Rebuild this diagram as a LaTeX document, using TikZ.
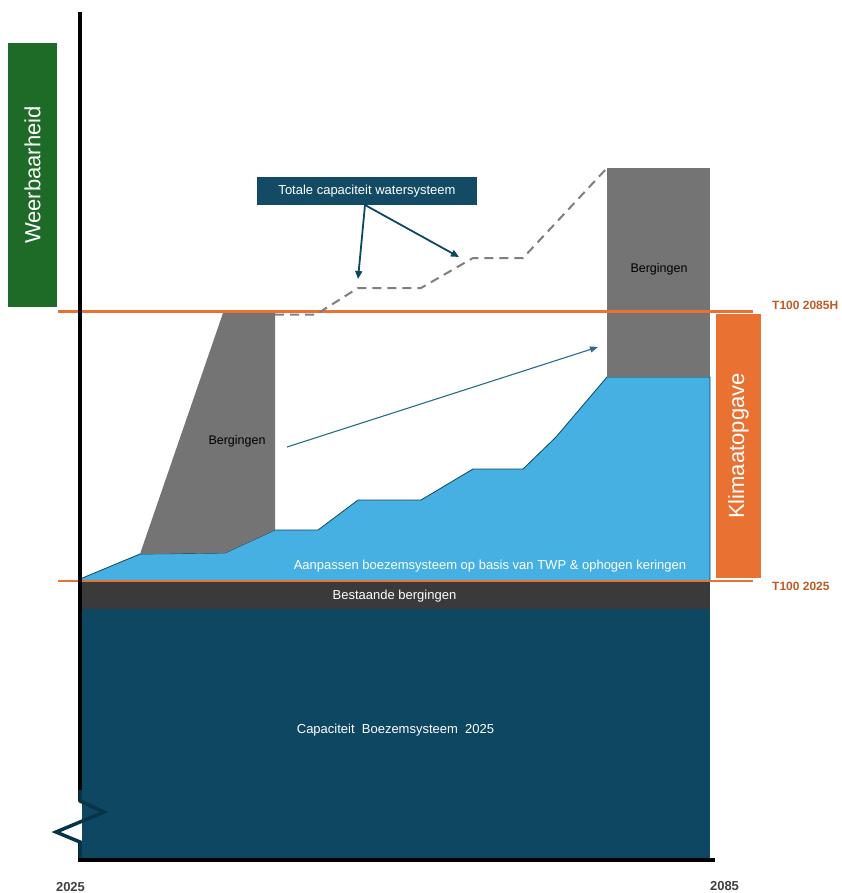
\documentclass[tikz,border=0pt]{standalone}
\usepackage{fontspec}
\setmainfont{Liberation Sans}
\usetikzlibrary{arrows.meta}
\definecolor{cteal}{HTML}{0E4761}
\definecolor{cbreak}{HTML}{08344A}
\definecolor{ccall}{HTML}{134B64}
\definecolor{cdark}{HTML}{3A3A3A}
\definecolor{cblue}{HTML}{45B0E1}
\definecolor{cgray}{HTML}{747474}
\definecolor{cdash}{HTML}{7F7F7F}
\definecolor{cgreen}{HTML}{1D6B27}
\definecolor{corange}{HTML}{E97132}
\definecolor{corangetxt}{HTML}{C25A26}
\definecolor{carrow}{HTML}{2A6C8C}
\definecolor{cyear}{HTML}{404040}
\tikzset{
  lbl/.style={font=\fontsize{13}{15}\selectfont, inner sep=0pt},
  wlbl/.style={lbl, text=white},
  berg/.style={font=\fontsize{12.5}{15}\selectfont, inner sep=0pt, text=black},
  tlbl/.style={font=\bfseries\fontsize{12}{14}\selectfont, inner sep=0pt, text=corangetxt, anchor=west},
  ylbl/.style={font=\bfseries\fontsize{13}{15}\selectfont, inner sep=0pt, text=cyear},
  sidebox/.style={rotate=90, inner sep=0pt, text=white, font=\fontsize{22}{26}\selectfont},
  calarrow/.style={draw=cteal, line width=1.8pt, -{Triangle[length=8pt,width=7pt]}},
  bluearrow/.style={draw=carrow, line width=1.1pt, -{Triangle[length=8pt,width=6pt]}},
  orangeline/.style={draw=corange, line width=2.6pt},
  axisline/.style={draw=black, line width=4pt},
}
\begin{document}
\begin{tikzpicture}[x=1pt,y=-1pt]
\useasboundingbox (0,0) rectangle (841,893);
% base blocks
\fill[cteal] (80,608) rectangle (710,859);
\fill[cdark] (80,581) rectangle (710,609);
% blue adaptation area
\fill[cblue] (80,579) -- (140,554) -- (225,553) -- (275,530) -- (318,530) -- (358,500) -- (421,500) -- (473,469) -- (523,469) -- (556,437) -- (607,377) -- (710,377) -- (710,581) -- (80,581) -- cycle;
\draw[cteal, line width=0.8pt] (80,579) -- (140,554) -- (225,553) -- (275,530) -- (318,530) -- (358,500) -- (421,500) -- (473,469) -- (523,469) -- (556,437) -- (607,377) -- (710,377) -- (710,581);
% storage shapes
\fill[cgray] (223,313) -- (275,313) -- (275,530) -- (225,553) -- (140,554) -- cycle;
\fill[cgray] (607,168) rectangle (710,377);
% orange reference lines
\draw[orangeline] (58,311.5) -- (753,311.5);
\draw[orangeline] (58,581) -- (753,581);
% dashed total capacity
\draw[cdash, line width=2pt, dash pattern=on 9pt off 6pt] (275,314.5) -- (316,314.5) -- (358,288) -- (421,288) -- (473,258) -- (523,258) -- (607,168);
% axes
\draw[axisline] (80,12) -- (80,860);
\draw[axisline] (78,860) -- (715,860);
% axis break
\fill[white] (77.5,801) rectangle (82,841);
\draw[cbreak, line width=3.5pt, line join=miter] (80,790) -- (80,801) -- (104,812) -- (56,832) -- (80,842) -- (80,858);
% side boxes
\node[sidebox, fill=cgreen, minimum width=264pt, minimum height=49pt] (weer) at (32.5,175) {Weerbaarheid};
\node[sidebox, fill=corange, minimum width=264pt, minimum height=45pt] (klim) at (738.5,446) {Klimaatopgave};
% labels
\node[berg] (b1) at (237,441) {Bergingen};
\node[berg] (b2) at (659,269) {Bergingen};
\node[wlbl] (aanp) at (490,566) {Aanpassen boezemsysteem op basis van TWP \& ophogen keringen};
\node[wlbl] (best) at (394.5,596) {Bestaande bergingen};
\node[wlbl] (cap) at (395.5,730) {Capaciteit\ \ Boezemsysteem\ \ 2025};
\node[tlbl] (t85) at (772,305) {T100 2085H};
\node[tlbl] (t25) at (772,586) {T100 2025};
\node[ylbl] (y25) at (70.5,887) {2025};
\node[ylbl] (y85) at (724.5,886) {2085};
% callout
\node[fill=ccall, text=white, minimum width=220pt, minimum height=28pt, inner sep=0pt, font=\fontsize{13}{15}\selectfont] (call) at (367,191) {Totale capaciteit watersysteem};
\coordinate (cs) at (365,205);
\coordinate (ce1) at (358,279);
\coordinate (ce2) at (459,257);
\draw[calarrow] (cs) -- (ce1);
\draw[calarrow] (cs) -- (ce2);
% trend arrow
\coordinate (as) at (287,447);
\coordinate (ae) at (598,347);
\draw[bluearrow] (as) -- (ae);
\end{tikzpicture}
\end{document}
